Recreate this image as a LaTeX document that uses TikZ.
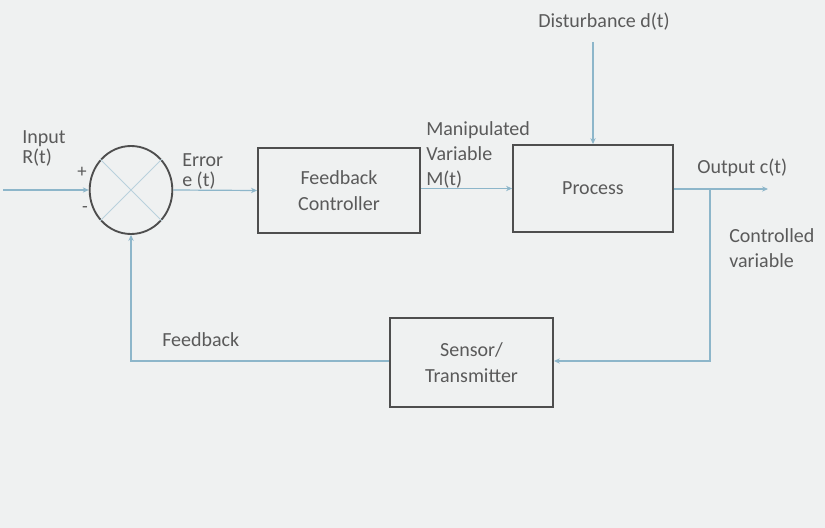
\documentclass[tikz,border=0pt]{standalone}
\usepackage{fontspec}
\setmainfont{Carlito}
\usetikzlibrary{arrows.meta,shapes.geometric}
\definecolor{bg}{HTML}{EFF1F1}
\definecolor{ln}{HTML}{8DB6CA}
\definecolor{bx}{HTML}{4E4E4E}
\definecolor{tx}{HTML}{5A5A5A}
\tikzset{
  blk/.style={draw=bx, line width=1.4pt, fill=none, text=tx, align=center,
    inner sep=2pt, font=\fontsize{15}{20}\selectfont},
  arr/.style={draw=ln, line width=0.9pt, -{Stealth[length=4.5pt,width=4pt]}},
  lbl/.style={text=tx, align=left, inner sep=0pt},
  sumc/.style={ellipse, draw=bx, line width=1.4pt, minimum width=62pt,
    minimum height=66pt, inner sep=0pt}
}
\begin{document}
\begin{tikzpicture}[x=0.75pt, y=-0.75pt]
\fill[bg] (0,0) rectangle (825,528);
\useasboundingbox (0,0) rectangle (825,528);

\node[sumc] (sum) at (131,190) {};
\draw[draw=ln!55!bg, line width=0.7pt] (sum.135) -- (sum.315);
\draw[draw=ln!55!bg, line width=0.7pt] (sum.45) -- (sum.225);

\node[blk, minimum width=121.5pt, minimum height=63.75pt] (ctrl) at (339,190.5) {Feedback\\Controller};
\node[blk, minimum width=120pt, minimum height=65.25pt] (proc) at (593,188.5) {Process};
\node[blk, minimum width=122.25pt, minimum height=66.75pt] (sens) at (471.5,362.5) {Sensor/\\Transmitter};

\coordinate (in) at (3,190);
\coordinate (dist) at (593,42);
\coordinate (out) at (768,189);
\coordinate (tap) at (710,189);
\coordinate (fbr) at (710,361);

\draw[arr] (in) -- (sum.west);
\draw[arr] (sum.east) -- (ctrl.west);
\draw[arr] (ctrl.east |- proc.west) -- (proc.west);
\draw[arr] (dist) -- (dist |- proc.north);
\draw[arr] (proc.east |- out) -- (out);
\draw[arr] (tap) -- (fbr) -- (sens.east |- fbr);
\draw[arr] (sens.west |- fbr) -| (sum.south);

\node[lbl, anchor=west, font=\fontsize{15}{15}\selectfont] (inlbl) at (22,148) {Input\\R(t)};
\node[lbl, font=\fontsize{14}{14}\selectfont] (plus) at (82,172) {+};
\node[lbl, font=\fontsize{14}{14}\selectfont] (minus) at (85,210) {-};
\node[lbl, anchor=west, font=\fontsize{15}{15}\selectfont] (err) at (182,171) {Error\\e (t)};
\node[lbl, anchor=west, font=\fontsize{15}{18.75}\selectfont] (mv) at (426,155) {Manipulated\\Variable\\M(t)};
\node[lbl, anchor=west, font=\fontsize{15}{18}\selectfont] (outl) at (697,168) {Output c(t)};
\node[lbl, anchor=west, font=\fontsize{15}{18.75}\selectfont] (cv) at (729,248) {Controlled\\variable};
\node[lbl, anchor=west, font=\fontsize{15}{18}\selectfont] (fb) at (162,340) {Feedback};
\node[lbl, anchor=west, font=\fontsize{15}{18}\selectfont] (dl) at (538,22) {Disturbance d(t)};
\end{tikzpicture}
\end{document}
